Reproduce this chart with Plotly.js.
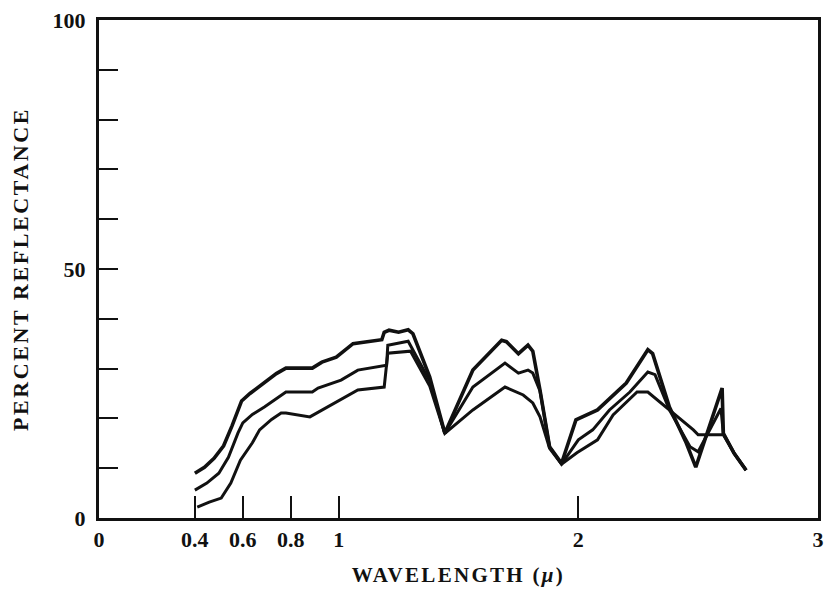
<!DOCTYPE html>
<html><head><meta charset="utf-8">
<script src="https://cdn.plot.ly/plotly-3.0.1.min.js"></script>
<style>
html,body{margin:0;padding:0;background:#fff;}
#chart{width:824px;height:592px;}
.ytitle{letter-spacing:2.6px;}
.xtitle{letter-spacing:2.3px;}
</style></head><body><div id="chart"></div>
<script>
// Wavelength (micron) and percent reflectance for three curves
const wlTop   = [0.40,0.44,0.48,0.52,0.555,0.58,0.595,0.63,0.68,0.74,0.78,0.89,0.93,0.99,1.06,1.18,1.19,1.21,1.25,1.29,1.31,1.38,1.443,1.56,1.68,1.70,1.75,1.79,1.81,1.84,1.88,1.93,1.99,2.08,2.20,2.29,2.31,2.38,2.45,2.49,2.60,2.605,2.65,2.70];
const reflTop = [9.0,10.2,12.0,14.5,18.5,21.7,23.5,25.0,26.8,29.0,30.1,30.1,31.3,32.3,35.0,35.8,37.3,37.7,37.3,37.8,37.0,28.3,17.0,29.7,35.7,35.4,33.0,34.7,33.5,25.7,14.3,11.0,19.7,21.7,27.1,33.8,33.0,22.3,15.1,10.2,26.1,17.0,13.0,9.6];

const wlMid   = [0.40,0.45,0.50,0.54,0.58,0.60,0.64,0.69,0.78,0.89,0.914,1.01,1.08,1.20,1.205,1.29,1.38,1.443,1.56,1.694,1.75,1.79,1.81,1.84,1.88,1.93,2.00,2.06,2.13,2.215,2.29,2.32,2.38,2.466,2.50,2.595,2.605,2.65,2.70];
const reflMid = [5.6,7.0,9.0,12.2,17.1,19.1,20.8,22.3,25.3,25.3,26.1,27.7,29.7,30.7,34.7,35.5,27.5,17.0,26.3,31.1,29.1,29.7,29.1,25.5,14.3,10.8,15.7,17.7,21.7,25.3,29.3,28.8,21.7,14.3,13.3,22.0,17.0,13.0,9.6];

const wlLow   = [0.41,0.46,0.51,0.55,0.59,0.64,0.67,0.72,0.76,0.78,0.88,0.91,1.01,1.08,1.19,1.205,1.30,1.38,1.443,1.56,1.694,1.77,1.81,1.84,1.88,1.93,1.994,2.08,2.145,2.245,2.29,2.38,2.48,2.50,2.605,2.65,2.70];
const reflLow = [2.2,3.2,4.0,7.0,11.6,15.1,17.7,19.8,21.1,21.1,20.3,21.1,23.7,25.7,26.3,33.1,33.5,26.5,17.0,21.7,26.3,24.7,23.1,20.3,14.0,10.8,13.1,15.7,20.7,25.3,25.3,21.7,17.7,16.7,16.7,13.0,9.6];

const xTickVals = [0,0.4,0.6,0.8,1,2,3];
const xTickText = ['0','0.4','0.6','0.8','1','2','3'];
const yTickVals = [0,10,20,30,40,50,60,70,80,90,100];
const yTickText = ['0','','','','','50','','','','','100'];

const ink = '#111';
const mk = (x, y, w) => ({x: x, y: y, type: 'scatter', mode: 'lines',
  line: {color: ink, width: w, shape: 'linear'}, hoverinfo: 'skip', showlegend: false});

const data = [mk(wlTop, reflTop, 3.6), mk(wlMid, reflMid, 3.0), mk(wlLow, reflLow, 3.0)];

const font = {family: 'Liberation Serif, serif', size: 22, weight: 'bold', color: ink};

const layout = {
  width: 824, height: 592,
  margin: {l: 99, r: 6, t: 20, b: 74},
  paper_bgcolor: '#fff', plot_bgcolor: '#fff',
  font: font,
  showlegend: false,
  xaxis: {
    range: [0, 3], tickvals: xTickVals, ticktext: xTickText,
    ticks: 'inside', ticklen: 22, tickwidth: 2, tickcolor: ink,
    showline: true, linewidth: 3, linecolor: ink, mirror: true,
    showgrid: false, zeroline: false, ticklabelstandoff: 0,
    tickfont: font,
    title: {text: 'WAVELENGTH (<i>\u03bc</i>)', font: {family: 'Liberation Serif, serif', size: 21, weight: 'bold', color: ink}, standoff: 16}
  },
  yaxis: {
    range: [0, 100], tickvals: yTickVals, ticktext: yTickText,
    ticks: 'inside', ticklen: 19, tickwidth: 2, tickcolor: ink,
    showline: true, linewidth: 3, linecolor: ink, mirror: true,
    showgrid: false, zeroline: false, ticklabelstandoff: 6,
    tickfont: font,
    title: {text: 'PERCENT REFLECTANCE', font: {family: 'Liberation Serif, serif', size: 22, weight: 'bold', color: ink}, standoff: 18}
  }
};

Plotly.newPlot('chart', data, layout, {displayModeBar: false, staticPlot: true});
</script></body></html>
